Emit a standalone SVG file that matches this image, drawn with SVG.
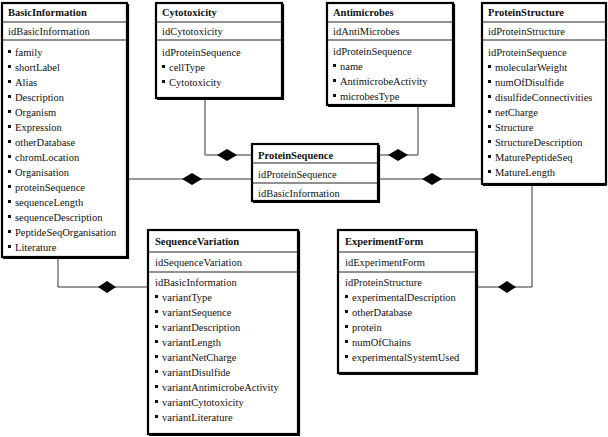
<svg xmlns="http://www.w3.org/2000/svg" width="608" height="437" viewBox="0 0 608 437">
<style>
.box{fill:#fff;stroke:#000;stroke-width:2.2}
.sh{fill:none;stroke:#000;stroke-width:1.2}
.sep{stroke:#222;stroke-width:1}
.t{font-family:"Liberation Serif","Times New Roman",serif;font-size:10.5px;fill:#111}
.h{font-weight:bold}
.b{fill:#111}
.c{fill:none;stroke:#333;stroke-width:1}
.d{fill:#000}
</style>
<rect width="608" height="437" fill="#fff"/>
<g id="connectors">
<polyline class="c" points="205,98 205,155 252,155"/>
<polygon class="d" points="217,155 227,149 237,155 227,161"/>
<polyline class="c" points="418,105 418,155 378,155"/>
<polygon class="d" points="388,155 398,149 408,155 398,161"/>
<line class="c" x1="127" y1="179" x2="252" y2="179"/>
<polygon class="d" points="182,179 192,173 202,179 192,185"/>
<line class="c" x1="378" y1="179" x2="482" y2="179"/>
<polygon class="d" points="422,179 432,173 442,179 432,185"/>
<polyline class="c" points="58,257 58,287 148,287"/>
<polygon class="d" points="98,287 107,281 116,287 107,293"/>
<polyline class="c" points="532,184 532,287 476,287"/>
<polygon class="d" points="498,287 507,281 516,287 507,293"/>
</g>
<g id="BasicInformation">
<rect class="box" x="2" y="3" width="125" height="254"/>
<polyline class="sh" points="128.5,4 128.5,258.5 3,258.5"/>
<line class="sep" x1="2" y1="22" x2="127" y2="22"/>
<line class="sep" x1="2" y1="40" x2="127" y2="40"/>
<text class="t h" x="8" y="16">BasicInformation</text>
<text class="t" x="8" y="35">idBasicInformation</text>
<g class="b"><rect x="8" y="50" width="3" height="3"/><rect x="8" y="65" width="3" height="3"/><rect x="8" y="80" width="3" height="3"/><rect x="8" y="95" width="3" height="3"/><rect x="8" y="110" width="3" height="3"/><rect x="8" y="125" width="3" height="3"/><rect x="8" y="140" width="3" height="3"/><rect x="8" y="155" width="3" height="3"/><rect x="8" y="170" width="3" height="3"/><rect x="8" y="185" width="3" height="3"/><rect x="8" y="200" width="3" height="3"/><rect x="8" y="215" width="3" height="3"/><rect x="8" y="230" width="3" height="3"/><rect x="8" y="245" width="3" height="3"/></g>
<text class="t" x="15" y="56">family</text>
<text class="t" x="15" y="71">shortLabel</text>
<text class="t" x="15" y="86">Alias</text>
<text class="t" x="15" y="101">Description</text>
<text class="t" x="15" y="116">Organism</text>
<text class="t" x="15" y="131">Expression</text>
<text class="t" x="15" y="146">otherDatabase</text>
<text class="t" x="15" y="161">chromLocation</text>
<text class="t" x="15" y="176">Organisation</text>
<text class="t" x="15" y="191">proteinSequence</text>
<text class="t" x="15" y="206">sequenceLength</text>
<text class="t" x="15" y="221">sequenceDescription</text>
<text class="t" x="15" y="236">PeptideSeqOrganisation</text>
<text class="t" x="15" y="251">Literature</text>
</g>
<g id="Cytotoxicity">
<rect class="box" x="156" y="3" width="126" height="95"/>
<polyline class="sh" points="283.5,4 283.5,99.5 157,99.5"/>
<line class="sep" x1="156" y1="22" x2="282" y2="22"/>
<line class="sep" x1="156" y1="40" x2="282" y2="40"/>
<text class="t h" x="162" y="16">Cytotoxicity</text>
<text class="t" x="162" y="35">idCytotoxicity</text>
<text class="t" x="162" y="56">idProteinSequence</text>
<rect class="b" x="162" y="65" width="3" height="3"/><rect class="b" x="162" y="80" width="3" height="3"/>
<text class="t" x="169" y="71">cellType</text>
<text class="t" x="169" y="86">Cytotoxicity</text>
</g>
<g id="Antimicrobes">
<rect class="box" x="327" y="3" width="126" height="102"/>
<polyline class="sh" points="454.5,4 454.5,106.5 328,106.5"/>
<line class="sep" x1="327" y1="22" x2="453" y2="22"/>
<line class="sep" x1="327" y1="40" x2="453" y2="40"/>
<text class="t h" x="333" y="16">Antimicrobes</text>
<text class="t" x="333" y="35">idAntiMicrobes</text>
<text class="t" x="333" y="55">idProteinSequence</text>
<rect class="b" x="333" y="64" width="3" height="3"/><rect class="b" x="333" y="79" width="3" height="3"/><rect class="b" x="333" y="94" width="3" height="3"/>
<text class="t" x="340" y="70">name</text>
<text class="t" x="340" y="85">AntimicrobeActivity</text>
<text class="t" x="340" y="100">microbesType</text>
</g>
<g id="ProteinStructure">
<rect class="box" x="482" y="3" width="124" height="181"/>
<polyline class="sh" points="606.5,185.5 483,185.5"/>
<line class="sep" x1="482" y1="22" x2="606" y2="22"/>
<line class="sep" x1="482" y1="40" x2="606" y2="40"/>
<text class="t h" x="488" y="16">ProteinStructure</text>
<text class="t" x="488" y="35">idProteinStructure</text>
<text class="t" x="488" y="56">idProteinSequence</text>
<g class="b"><rect x="488" y="65" width="3" height="3"/><rect x="488" y="80" width="3" height="3"/><rect x="488" y="95" width="3" height="3"/><rect x="488" y="110" width="3" height="3"/><rect x="488" y="125" width="3" height="3"/><rect x="488" y="140" width="3" height="3"/><rect x="488" y="155" width="3" height="3"/><rect x="488" y="170" width="3" height="3"/></g>
<text class="t" x="495" y="71">molecularWeight</text>
<text class="t" x="495" y="86">numOfDisulfide</text>
<text class="t" x="495" y="101">disulfideConnectivities</text>
<text class="t" x="495" y="116">netCharge</text>
<text class="t" x="495" y="131">Structure</text>
<text class="t" x="495" y="146">StructureDescription</text>
<text class="t" x="495" y="161">MaturePeptideSeq</text>
<text class="t" x="495" y="176">MatureLength</text>
</g>
<g id="ProteinSequence">
<rect class="box" x="252" y="144" width="126" height="57"/>
<polyline class="sh" points="379.5,145 379.5,202.5 253,202.5"/>
<line class="sep" x1="252" y1="163" x2="378" y2="163"/>
<line class="sep" x1="252" y1="183" x2="378" y2="183"/>
<text class="t h" x="258" y="159">ProteinSequence</text>
<text class="t" x="258" y="178">idProteinSequence</text>
<text class="t" x="258" y="197">idBasicInformation</text>
</g>
<g id="SequenceVariation">
<rect class="box" x="148" y="230" width="150" height="204"/>
<polyline class="sh" points="299.5,231 299.5,435.5 149,435.5"/>
<line class="sep" x1="148" y1="252" x2="298" y2="252"/>
<line class="sep" x1="148" y1="272" x2="298" y2="272"/>
<text class="t h" x="155" y="245">SequenceVariation</text>
<text class="t" x="155" y="266">idSequenceVariation</text>
<text class="t" x="155" y="286">idBasicInformation</text>
<g class="b"><rect x="155" y="295" width="3" height="3"/><rect x="155" y="310" width="3" height="3"/><rect x="155" y="325" width="3" height="3"/><rect x="155" y="340" width="3" height="3"/><rect x="155" y="355" width="3" height="3"/><rect x="155" y="370" width="3" height="3"/><rect x="155" y="385" width="3" height="3"/><rect x="155" y="400" width="3" height="3"/><rect x="155" y="415" width="3" height="3"/></g>
<text class="t" x="162" y="301">variantType</text>
<text class="t" x="162" y="316">variantSequence</text>
<text class="t" x="162" y="331">variantDescription</text>
<text class="t" x="162" y="346">variantLength</text>
<text class="t" x="162" y="361">variantNetCharge</text>
<text class="t" x="162" y="376">variantDisulfide</text>
<text class="t" x="162" y="391">variantAntimicrobeActivity</text>
<text class="t" x="162" y="406">variantCytotoxicity</text>
<text class="t" x="162" y="421">variantLiterature</text>
</g>
<g id="ExperimentForm">
<rect class="box" x="338" y="230" width="138" height="143"/>
<polyline class="sh" points="477.5,231 477.5,374.5 339,374.5"/>
<line class="sep" x1="338" y1="252" x2="476" y2="252"/>
<line class="sep" x1="338" y1="272" x2="476" y2="272"/>
<text class="t h" x="345" y="245">ExperimentForm</text>
<text class="t" x="345" y="266">idExperimentForm</text>
<text class="t" x="345" y="286">idProteinStructure</text>
<g class="b"><rect x="345" y="295" width="3" height="3"/><rect x="345" y="310" width="3" height="3"/><rect x="345" y="325" width="3" height="3"/><rect x="345" y="340" width="3" height="3"/><rect x="345" y="355" width="3" height="3"/></g>
<text class="t" x="352" y="301">experimentalDescription</text>
<text class="t" x="352" y="316">otherDatabase</text>
<text class="t" x="352" y="331">protein</text>
<text class="t" x="352" y="346">numOfChains</text>
<text class="t" x="352" y="361">experimentalSystemUsed</text>
</g>
</svg>
